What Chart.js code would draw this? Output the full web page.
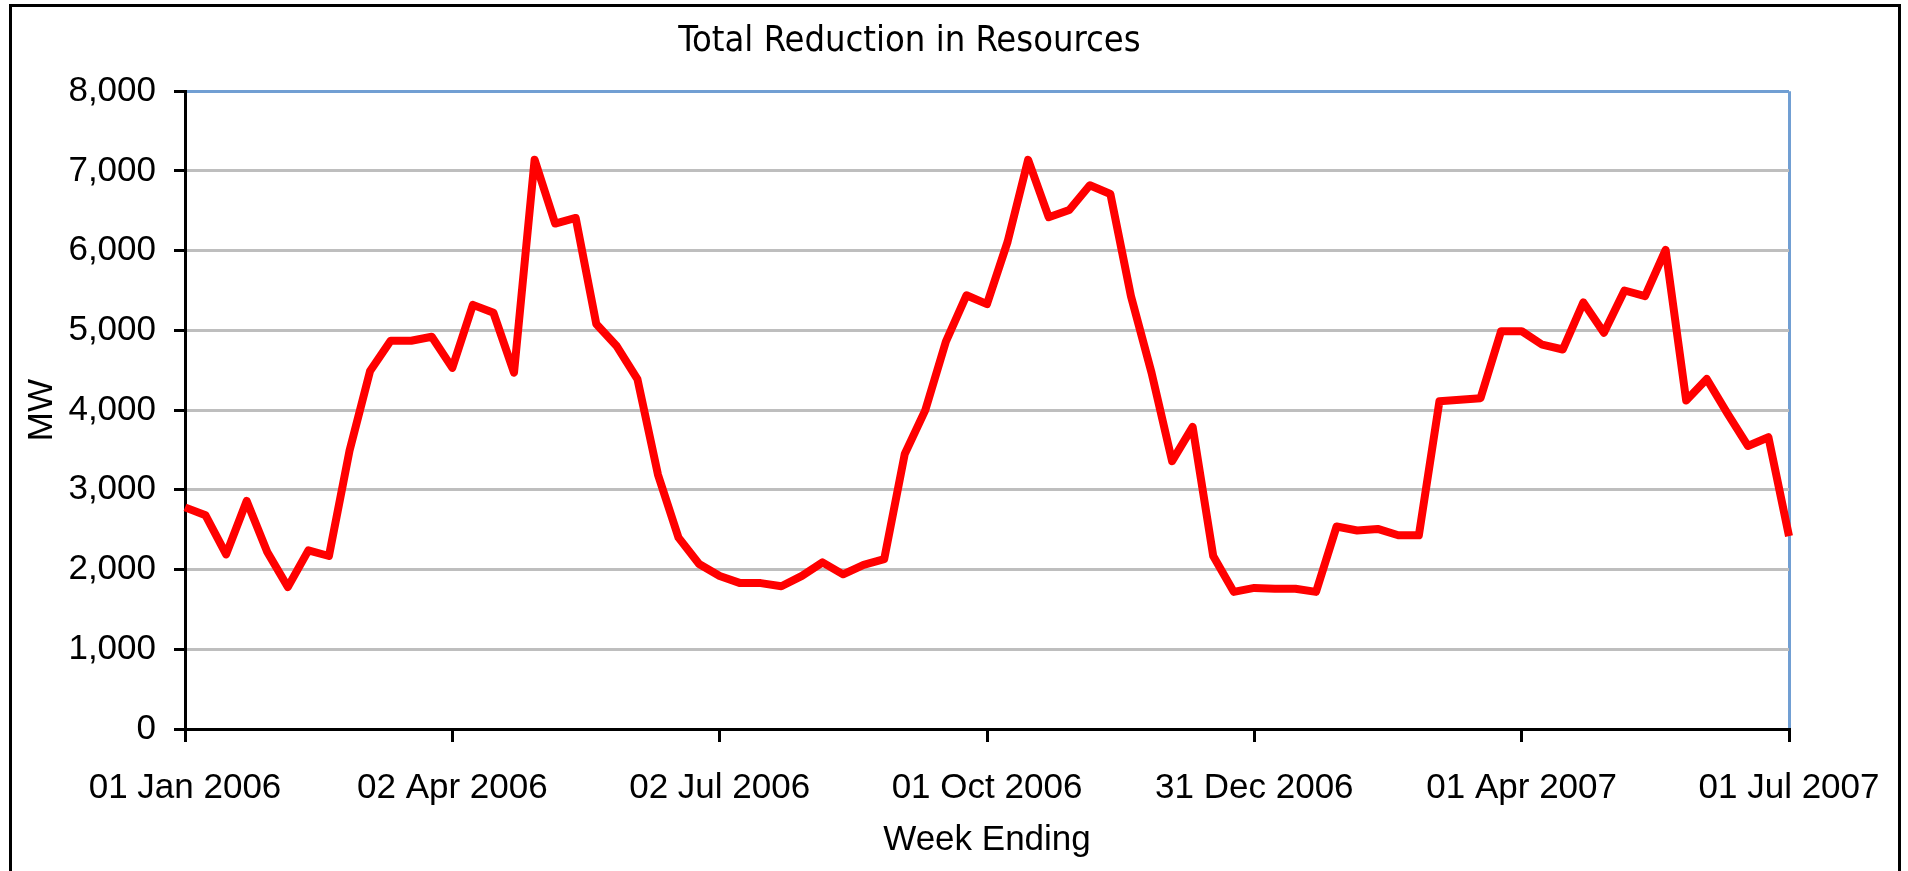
<!DOCTYPE html>
<html><head><meta charset="utf-8">
<script src="https://cdn.jsdelivr.net/npm/chart.js@4.4.1/dist/chart.umd.min.js"></script>
<style>
html,body{margin:0;padding:0;background:#fff;overflow:hidden;width:1908px;height:871px;}
#frame{position:absolute;left:9px;top:4px;width:1886px;height:900px;border:3px solid #000;}
#c{position:absolute;left:0;top:0;}
</style></head><body>
<div id="frame"></div>
<canvas id="c" width="1908" height="871"></canvas>
<script>
// ---- data ----
const chartTitle = 'Total Reduction in Resources';
const xAxisTitle = 'Week Ending';
const yAxisTitle = 'MW';
const firstWeekEnding = '2006-01-01';
const tickLabels = ['01 Jan 2006', '02 Apr 2006', '02 Jul 2006', '01 Oct 2006', '31 Dec 2006', '01 Apr 2007', '01 Jul 2007'];
const weeksPerTick = 13;
const mwValues = [
  2780, 2680, 2190, 2860, 2220, 1780, 2240, 2170, 3490, 4490,
  4870, 4870, 4920, 4530, 5320, 5220, 4470, 7140, 6340, 6410,
  5080, 4800, 4390, 3190, 2400, 2070, 1920, 1830, 1830, 1790,
  1920, 2090, 1940, 2060, 2130, 3450, 4000, 4860, 5440, 5330,
  6110, 7140, 6420, 6510, 6820, 6710, 5430, 4470, 3360, 3790,
  2170, 1720, 1770, 1760, 1760, 1720, 2540, 2490, 2510, 2430,
  2430, 4110, 4130, 4150, 4990, 4990, 4820, 4760, 5350, 4970,
  5500, 5430, 6010, 4120, 4390, 3960, 3550, 3660, 2420
];
const yTicks = [0, 1000, 2000, 3000, 4000, 5000, 6000, 7000, 8000];

// ---- categories: week-ending dates ----
const monthNames = ['Jan','Feb','Mar','Apr','May','Jun','Jul','Aug','Sep','Oct','Nov','Dec'];
const startDate = new Date(firstWeekEnding + 'T00:00:00Z');
const categories = mwValues.map((_, i) => {
  const d = new Date(startDate.getTime() + i * 7 * 86400000);
  return String(d.getUTCDate()).padStart(2, '0') + ' ' + monthNames[d.getUTCMonth()] + ' ' + d.getUTCFullYear();
});

const BLUE = '#719FD3';
const GRID = '#BEBEBE';
const FONT = "'Liberation Sans', Arial, sans-serif";
const NARROW = "'DejaVu Sans Condensed', 'Liberation Sans', sans-serif";
const lastIdx = categories.length - 1;

new Chart(document.getElementById('c'), {
  type: 'line',
  data: {
    labels: categories,
    datasets: [{
      data: mwValues,
      borderColor: '#FF0000',
      borderWidth: 8,
      pointRadius: 0,
      pointHoverRadius: 0,
      tension: 0,
      fill: false,
      borderJoinStyle: 'round',
      borderCapStyle: 'butt'
    }]
  },
  options: {
    responsive: false,
    animation: false,
    devicePixelRatio: 1,
    layout: { padding: { left: 30, right: 119, top: 0, bottom: 10 } },
    plugins: {
      legend: { display: false },
      tooltip: { enabled: false },
      title: {
        display: true,
        text: chartTitle,
        color: '#000',
        font: { family: NARROW, size: 36, weight: 'normal' },
        padding: { top: 20, bottom: 28 }
      }
    },
    scales: {
      x: {
        type: 'category',
        offset: false,
        afterFit: s => { s.height = 132; },
        border: { display: true, color: '#000', width: 3 },
        grid: {
          display: true,
          drawOnChartArea: true,
          drawTicks: true,
          tickLength: 13,
          tickWidth: 3,
          lineWidth: 3,
          tickColor: ctx => (ctx.index % weeksPerTick === 0 ? '#000' : 'rgba(0,0,0,0)'),
          color: ctx => (ctx.index === lastIdx ? BLUE : 'rgba(0,0,0,0)')
        },
        ticks: {
          autoSkip: false,
          maxRotation: 0,
          minRotation: 0,
          padding: 25,
          color: '#000',
          font: { family: FONT, size: 35 },
          callback: (value, index) => (index % weeksPerTick === 0 ? tickLabels[index / weeksPerTick] : '')
        },
        title: {
          display: true,
          text: xAxisTitle,
          color: '#000',
          font: { family: FONT, size: 35 },
          padding: { top: 0, bottom: 0 }
        }
      },
      y: {
        min: yTicks[0],
        max: yTicks[yTicks.length - 1],
        afterFit: s => { s.width = 155; },
        afterBuildTicks: s => { s.ticks = yTicks.map(v => ({ value: v })); },
        border: { display: true, color: '#000', width: 3 },
        grid: {
          display: true,
          drawOnChartArea: true,
          drawTicks: true,
          tickLength: 11,
          tickWidth: 3,
          lineWidth: 3,
          tickColor: '#000',
          color: ctx => (ctx.tick && ctx.tick.value === yTicks[yTicks.length - 1] ? BLUE : GRID)
        },
        ticks: {
          padding: 18,
          color: '#000',
          font: { family: FONT, size: 35 },
          callback: v => Number(v).toLocaleString('en-US')
        },
        title: {
          display: true,
          text: yAxisTitle,
          color: '#000',
          font: { family: FONT, size: 35, lineHeight: 0.7 },
          padding: { top: 0, bottom: 0 }
        }
      }
    }
  }
});
</script>
</body></html>
